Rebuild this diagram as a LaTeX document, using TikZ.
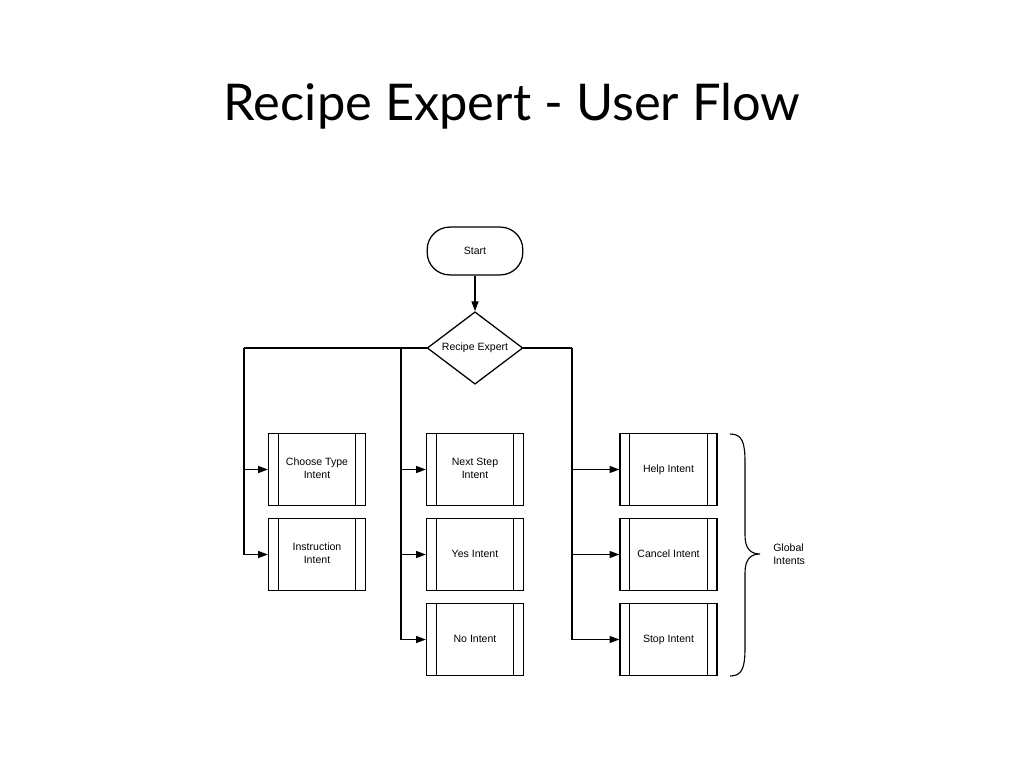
\documentclass[tikz,border=0pt]{standalone}
\usepackage{fontspec}
\setmainfont{Liberation Sans}
\newfontfamily\titlefont{Lato}
\usetikzlibrary{shapes.geometric,arrows.meta}

\tikzset{
  block/.style={draw,line width=0.9pt,minimum width=69pt,minimum height=51.5pt,
    align=center,font=\fontsize{7.5}{9}\selectfont,inner sep=0pt,
    path picture={
      \draw[line width=0.9pt] ([xshift=7pt]path picture bounding box.north west) -- ([xshift=7pt]path picture bounding box.south west);
      \draw[line width=0.9pt] ([xshift=-7pt]path picture bounding box.north east) -- ([xshift=-7pt]path picture bounding box.south east);
    }},
  link/.style={line width=0.9pt,-{Triangle[length=7pt,width=5pt]}},
  wire/.style={line width=0.9pt}
}

\begin{document}
\begin{tikzpicture}[x=0.025cm,y=-0.025cm]
\useasboundingbox (0,0) rectangle (1024,768);
\draw (512,121) node[anchor=base,font=\titlefont\fontsize{36}{40}\selectfont](title) {Recipe Expert - User Flow};

\draw (475,251) node[draw,line width=0.9pt,minimum width=68pt,minimum height=34pt,rounded corners=16pt,font=\fontsize{7.5}{9}\selectfont](start) {Start};
\draw (475,348) node[draw,diamond,aspect=1.3,line width=0.9pt,minimum width=68pt,minimum height=51.5pt,inner sep=0pt,font=\fontsize{7.5}{9}\selectfont](expert) {\strut Recipe Expert};

\draw (317,469.5) node[block](choose) {\strut Choose Type\\\strut Intent};
\draw (317,554.5) node[block](instr) {\strut Instruction\\\strut Intent};
\draw (475,469.5) node[block](next) {\strut Next Step\\\strut Intent};
\draw (475,554.5) node[block](yes) {\strut Yes Intent};
\draw (475,639.5) node[block](no) {\strut No Intent};
\draw (668.5,469.5) node[block](help) {\strut Help Intent};
\draw (668.5,554.5) node[block](cancel) {\strut Cancel Intent};
\draw (668.5,639.5) node[block](stop) {\strut Stop Intent};

\coordinate (ltop) at (244,348);
\coordinate (mtop) at (401,348);
\coordinate (rtop) at (572,348);

\draw[link] (start) -- (expert);
\draw[wire] (expert.west) -- (ltop);
\draw[link] (ltop) |- (instr.west);
\draw[link] (ltop |- choose.west) -- (choose.west);
\draw[link] (mtop) |- (no.west);
\draw[link] (mtop |- next.west) -- (next.west);
\draw[link] (mtop |- yes.west) -- (yes.west);
\draw[wire] (expert.east) -- (rtop);
\draw[link] (rtop) |- (stop.west);
\draw[link] (rtop |- help.west) -- (help.west);
\draw[link] (rtop |- cancel.west) -- (cancel.west);

% brace
\draw[line width=0.8pt] (730,434) .. controls (742,434) and (745,442) .. (745,462) -- (745,535)
  .. controls (745,548) and (750,554) .. (760,554)
  .. controls (750,554) and (745,560) .. (745,573) -- (745,648)
  .. controls (745,668) and (742,676) .. (730,676);
\begin{scope}
\clip (760,530) rectangle (805,580);
\draw (773,554) node[anchor=west,align=left,inner sep=0pt,font=\fontsize{7.5}{9.2}\selectfont](glob) {Global\\Intents};
\end{scope}
\end{tikzpicture}
\end{document}
